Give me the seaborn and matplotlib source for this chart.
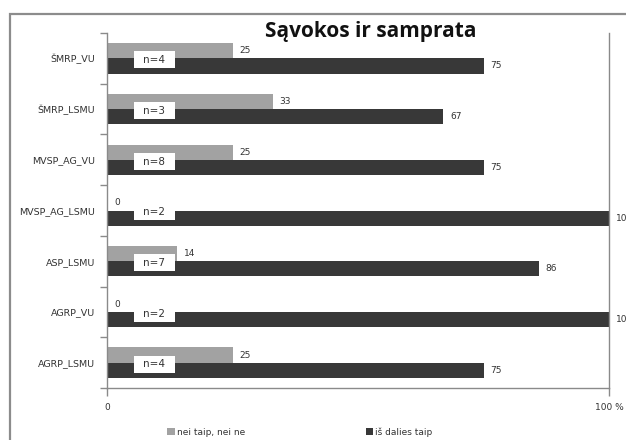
import matplotlib
matplotlib.use("Agg")
import matplotlib.pyplot as plt
from matplotlib.patches import Rectangle
import seaborn as sns
import pandas as pd

# Survey groups (top to bottom) and their answer shares in percent
groups = ["ŠMRP_VU", "ŠMRP_LSMU", "MVSP_AG_VU", "MVSP_AG_LSMU",
          "ASP_LSMU", "AGRP_VU", "AGRP_LSMU"]
neutral = [25, 33, 25, 0, 14, 0, 25]        # "nei taip, nei ne"
partly = [75, 67, 75, 100, 86, 100, 75]     # "iš dalies taip"
n_resp = [4, 3, 8, 2, 7, 2, 4]
series = ["nei taip, nei ne", "iš dalies taip"]
x_ticks = [0, 100]
x_ticklabels = ["0", "100 %"]
title = "Sąvokos ir samprata"

GRAY = "#a2a2a2"
DARK = "#383838"
AXIS = "#8a8a8a"
TEXT = "#333333"

df = pd.DataFrame({
    "group": groups * 2,
    "value": neutral + partly,
    "series": [series[0]] * len(groups) + [series[1]] * len(groups),
})

sns.set_style("white")
plt.rcParams["font.family"] = ["DejaVu Sans"]

fig = plt.figure(figsize=(6.26, 4.40), dpi=100)
ax = fig.add_axes([107 / 626, 1 - 388 / 440, 502 / 626, 355 / 440])

sns.barplot(data=df, x="value", y="group", hue="series", orient="h",
            order=groups, hue_order=series, palette=[GRAY, DARK],
            saturation=1, width=0.6, linewidth=0, legend=False, ax=ax)

ax.set_xlim(0, 100)
ax.set_ylim(len(groups) - 0.5, -0.5)

# value labels at the bar ends
for cont in ax.containers:
    ax.bar_label(cont, fmt="%d", padding=5, fontsize=6.5, color=TEXT,
                 clip_on=False)

# n= boxes sitting across each pair of bars
for i, n in enumerate(n_resp):
    ax.add_patch(Rectangle((5.4, i - 0.14), 8.1, 0.336, facecolor="white",
                           edgecolor="none", zorder=5))
    ax.text(9.45, i + 0.035, f"n={n}", ha="center", va="center",
            fontsize=7.5, color=TEXT, zorder=6)

# axes styling
for side in ["left", "right", "bottom"]:
    ax.spines[side].set_visible(True)
    ax.spines[side].set_color(AXIS)
    ax.spines[side].set_linewidth(1.0)
ax.spines["top"].set_visible(False)

ax.set_xticks(x_ticks)
ax.set_xticklabels(x_ticklabels, fontsize=6.5, color=TEXT)
ax.tick_params(axis="x", direction="out", length=6, width=1, color=AXIS,
               pad=5, bottom=True)

ax.set_yticks(range(len(groups)))
ax.set_yticklabels(groups, fontsize=6.8, color=TEXT)
ax.tick_params(axis="y", which="major", length=0, pad=8.5, left=True)
ax.set_yticks([i - 0.5 for i in range(len(groups) + 1)], minor=True)
ax.tick_params(axis="y", which="minor", direction="out", length=5, width=1,
               color=AXIS, left=True)
ax.set_xlabel("")
ax.set_ylabel("")
ax.grid(False)

# title
fig.text(371 / 626, 1 - 31 / 440, title, ha="center", va="center",
         fontsize=15, fontweight="bold", family=["Open Sans", "DejaVu Sans"],
         color="#111111")

# legend below the axes
handles = [Rectangle((0, 0), 1, 1, facecolor=c, edgecolor="none")
           for c in (GRAY, DARK)]
fig.legend(handles, series, loc="center", bbox_to_anchor=(300 / 626, 1 - 432 / 440),
           ncol=2, frameon=False, fontsize=6.5, handlelength=0.8,
           handleheight=0.8, handletextpad=0.3, columnspacing=13.3,
           labelcolor=TEXT)

# outer chart frame
fig.add_artist(Rectangle((10 / 626, -0.2), 1.2, 1.2 - 14 / 440,
                         transform=fig.transFigure, fill=False,
                         edgecolor="#8c8c8c", linewidth=1.6))

fig.savefig("out.png", dpi=100)
